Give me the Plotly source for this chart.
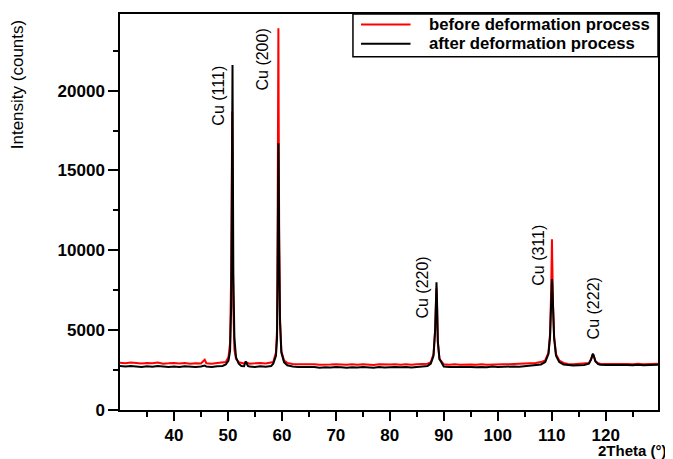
import plotly.graph_objects as go

# 2Theta positions (degrees)
two_theta = [
    30, 31, 32, 33, 34, 35, 36, 37, 38, 39, 40, 41, 42, 43, 44, 45, 45.7, 46, 47, 48, 49,
    49.6, 50.1, 50.4, 50.6, 50.7, 50.8, 50.85, 50.9, 51.0, 51.2, 51.5, 52.0,
    52.5, 53, 53.3, 53.7, 54, 55, 56, 57, 58,
    58.4, 58.9, 59.1, 59.2, 59.3, 59.35, 59.4, 59.5, 59.65, 59.9, 60.4, 61,
    62, 63, 64, 65, 66, 67, 68, 69, 70, 71, 72, 73, 74, 75, 76, 77, 78, 79, 80, 81,
    82, 83, 84, 85, 86, 87,
    87.6, 88.1, 88.4, 88.55, 88.65, 88.75, 88.9, 89.2, 89.7,
    90, 91, 92, 93, 94, 95, 96, 97, 98, 99, 100, 101, 102, 103, 104, 105, 106, 107, 108,
    108.8, 109.4, 109.7, 109.9, 110.0, 110.05, 110.1, 110.25, 110.45, 110.8, 111.4, 112.2,
    113, 114, 115, 116,
    116.9, 117.3, 117.55, 117.65, 117.8, 118.1, 118.6,
    119, 120, 121, 122, 123, 124, 125, 126, 127, 128, 129, 129.7,
]

# Intensity before deformation (counts)
before = [
    2960, 2930, 2980, 2940, 2910, 2950, 2930, 2970, 2900, 2920, 2950, 2910, 2940, 2900, 2930, 2910, 3150, 2930, 2900, 2940, 2980,
    3000, 3300, 4200, 8500, 14000, 18700, 15000, 11000, 6500, 3800, 3200, 3000,
    2930, 2910, 3000, 2930, 2900, 2920, 2950, 2910, 2960,
    3000, 3600, 5000, 11000, 21000, 23900, 19000, 11000, 5800, 3700, 3100, 2950,
    2880, 2860, 2870, 2840, 2870, 2830, 2860, 2850, 2870, 2840, 2830, 2860, 2840, 2870, 2850, 2820, 2860, 2840, 2850, 2870,
    2840, 2860, 2830, 2860, 2880, 2900,
    3000, 3500, 5000, 7000, 7600, 6500, 4200, 3200, 2950,
    2860, 2840, 2870, 2830, 2860, 2850, 2840, 2870, 2840, 2860, 2850, 2870, 2860, 2880, 2870, 2890, 2920, 2950, 3000,
    3100, 3600, 4800, 7500, 10000, 10700, 9500, 6500, 4600, 3500, 3100, 2950,
    2880, 2870, 2890, 2900,
    2950, 3200, 3450, 3500, 3380, 3050, 2930,
    2900, 2880, 2890, 2870, 2900, 2880, 2860, 2890, 2870, 2890, 2880, 2890,
]

# Intensity after deformation (counts)
after = [
    2750, 2720, 2760, 2730, 2700, 2740, 2710, 2750, 2720, 2690, 2730, 2700, 2740, 2710, 2690, 2730, 2780, 2720, 2700, 2740, 2760,
    2850, 3100, 3700, 6500, 11500, 18500, 21600, 17000, 8500, 4500, 3300, 2900,
    2760, 2740, 3050, 2760, 2720, 2700, 2740, 2710, 2750,
    2900, 3400, 4500, 8000, 14000, 16700, 15000, 10000, 5500, 3600, 3000, 2800,
    2720, 2690, 2700, 2670, 2690, 2650, 2680, 2660, 2690, 2670, 2650, 2680, 2660, 2700, 2670, 2650, 2690, 2660, 2680, 2700,
    2670, 2690, 2660, 2700, 2720, 2760,
    2900, 3400, 5000, 7200, 8000, 6800, 4300, 3200, 2850,
    2720, 2690, 2700, 2680, 2710, 2690, 2670, 2700, 2680, 2720, 2690, 2710, 2700, 2730, 2710, 2740, 2760, 2790, 2850,
    3000, 3500, 4600, 6800, 8000, 8200, 7900, 6500, 4500, 3400, 3000, 2850,
    2800, 2780, 2800, 2820,
    2900, 3150, 3450, 3520, 3400, 3050, 2880,
    2840, 2820, 2830, 2810, 2840, 2820, 2800, 2830, 2810, 2830, 2820, 2830,
]

series_names = ["before deformation process", "after deformation process"]
series_colors = ["#ff0000", "#000000"]

# Peak labels: text, 2Theta, intensity of label centre
peak_labels = ["Cu (111)", "Cu (200)", "Cu (220)", "Cu (311)", "Cu (222)"]
peak_label_x = [48.2, 56.5, 86.1, 107.4, 117.8]
peak_label_y = [19700, 21950, 7650, 9700, 6350]

x_ticks = [40, 50, 60, 70, 80, 90, 100, 110, 120]
x_minor = [35, 45, 55, 65, 75, 85, 95, 105, 115, 125]
y_ticks = [0, 5000, 10000, 15000, 20000]
y_minor = [2500, 7500, 12500, 17500, 22500]

assert len(two_theta) == len(before) == len(after)

FONT = "Liberation Sans"

fig = go.Figure()
for name, ys, col in zip(series_names, [before, after], series_colors):
    fig.add_trace(go.Scatter(x=two_theta, y=ys, mode="lines", name=name,
                             line=dict(color=col, width=2), showlegend=False))

for t, px, py in zip(peak_labels, peak_label_x, peak_label_y):
    fig.add_annotation(x=px, y=py, xref="x", yref="y", text=t, textangle=-90, showarrow=False,
                       xanchor="center", yanchor="middle",
                       font=dict(family=FONT, size=16, color="black"))

fig.add_annotation(x=-0.19, y=0.822, xref="paper", yref="paper", text="Intensity (counts)", textangle=-90,
                   showarrow=False, xanchor="center", yanchor="middle",
                   font=dict(family=FONT, size=17, color="black"))
fig.add_annotation(x=1.0204, y=-0.103, xref="paper", yref="paper", text="<b>2Theta (°)</b>",
                   showarrow=False, xanchor="right", yanchor="middle",
                   font=dict(family=FONT, size=15, color="black"))

# Legend box (drawn manually to match the reference's compact layout)
fig.add_shape(type="rect", xref="paper", yref="paper", x0=0.433, x1=1.0, y0=0.892, y1=1.0,
              line=dict(color="black", width=1.5), fillcolor="white", layer="above")
for i, (name, col) in enumerate(zip(series_names, series_colors)):
    yy = 0.9736 - i * 0.049
    fig.add_shape(type="line", xref="paper", yref="paper", x0=0.448, x1=0.540, y0=yy, y1=yy,
                  line=dict(color=col, width=2), layer="above")
    fig.add_annotation(x=0.571, y=yy, xref="paper", yref="paper", text=f"<b>{name}</b>",
                       showarrow=False, xanchor="left", yanchor="middle",
                       font=dict(family=FONT, size=16.7, color="black"))

fig.update_xaxes(range=[30, 129.7], showgrid=False, zeroline=False, showline=True, linecolor="black",
                 linewidth=1.5, mirror=True, ticks="outside", ticklen=9, tickwidth=1.5, tickcolor="black",
                 tickvals=x_ticks, ticktext=[f"<b>{v}</b>" for v in x_ticks],
                 tickfont=dict(family=FONT, size=17, color="black"),
                 minor=dict(tickvals=x_minor, ticks="outside", ticklen=5, tickwidth=1.5, tickcolor="black"))
fig.update_yaxes(range=[0, 24800], showgrid=False, zeroline=False, showline=True, linecolor="black",
                 linewidth=1.5, mirror=True, ticks="outside", ticklen=10, tickwidth=1.5, tickcolor="black",
                 tickvals=y_ticks, ticktext=[f"<b>{v}</b>" for v in y_ticks],
                 tickfont=dict(family=FONT, size=17, color="black"),
                 minor=dict(tickvals=y_minor, ticks="outside", ticklen=5, tickwidth=1.5, tickcolor="black"))

# page body has an 8px margin: size the figure so the plot area lands where the reference has it
fig.update_layout(
    width=665, height=451,
    margin=dict(l=112, r=15, t=4, b=49),
    paper_bgcolor="white", plot_bgcolor="white",
    showlegend=False,
)

fig.write_html("out.html")
